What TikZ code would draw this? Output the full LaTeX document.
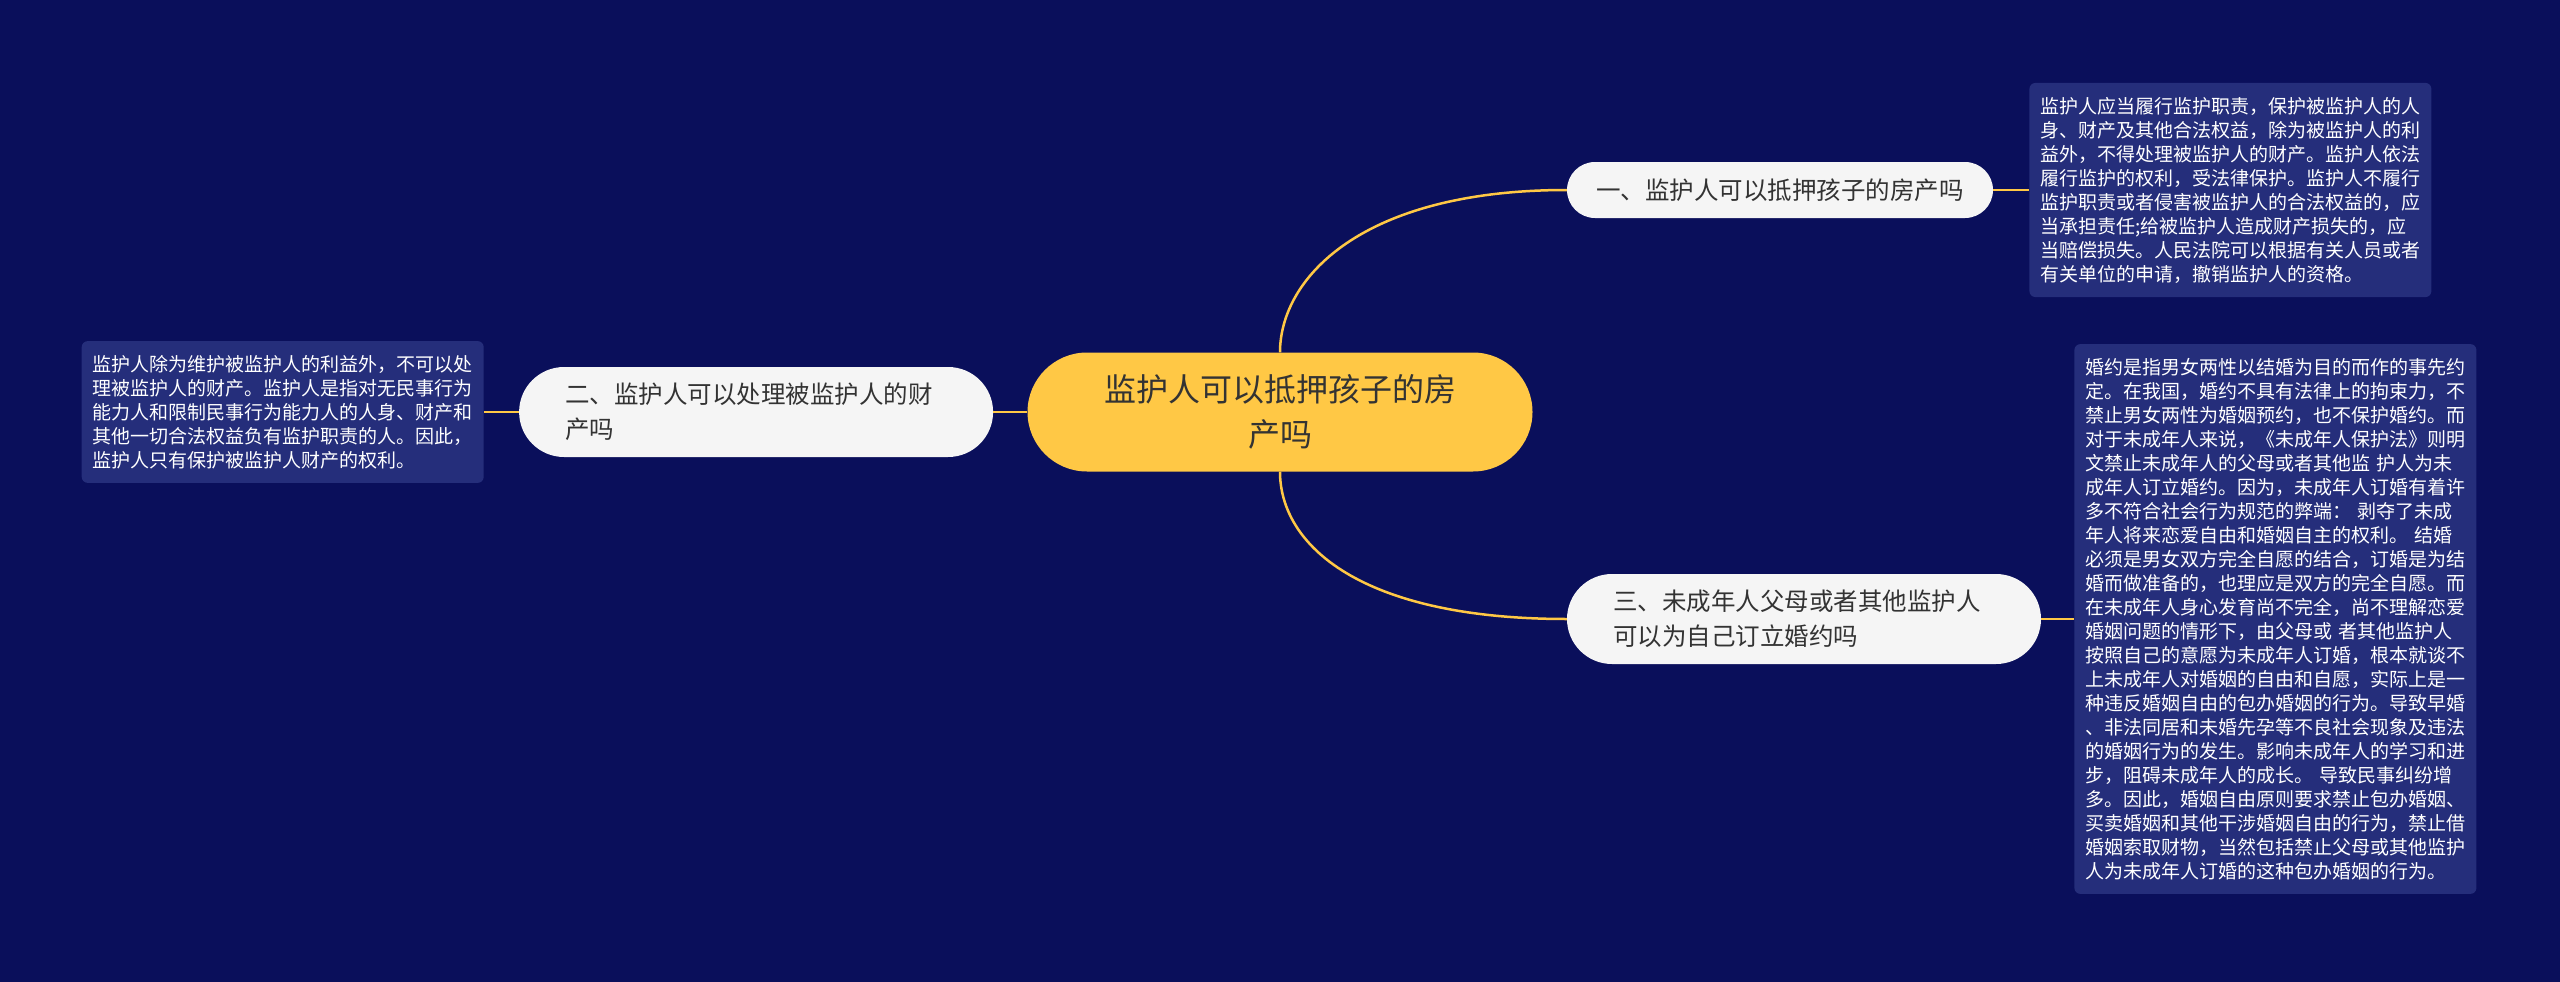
\documentclass[tikz,border=0pt]{standalone}
\usepackage{fontspec}
\setmainfont{Noto Sans CJK SC}
\usetikzlibrary{positioning}
\definecolor{pagebg}{HTML}{0A0F5B}
\definecolor{notefill}{HTML}{252E7B}
\definecolor{rootfill}{HTML}{FFC845}
\definecolor{branchfill}{HTML}{F5F5F5}
\definecolor{inktext}{HTML}{333333}
\definecolor{linkline}{HTML}{FFC845}
\tikzset{
  rootbox/.style={rectangle, rounded corners=59.5pt, fill=rootfill, text=inktext,
    align=center, minimum width=505pt, minimum height=119pt,
    font=\fontsize{32pt}{45pt}\selectfont},
  branchbox/.style={rectangle, fill=branchfill, text=inktext,
    font=\fontsize{24.5pt}{35pt}\selectfont},
  shortbranch/.style={branchbox, rounded corners=28pt, align=center,
    minimum width=426pt, minimum height=56pt},
  longbranch/.style={branchbox, rounded corners=45pt, align=left,
    text width=382pt, inner xsep=46pt, minimum height=90pt},
  notebox/.style={rectangle, rounded corners=6pt, fill=notefill, text=white,
    align=left, text width=380pt, inner xsep=11pt, inner ysep=14pt,
    font=\fontsize{19pt}{24pt}\selectfont},
  link/.style={draw=linkline, line width=2.5pt}
}

\begin{document}
\begin{tikzpicture}[x=1pt, y=-1pt]
    \fill[pagebg] (0,0) rectangle (2560,982);

    \node[rootbox] (centre) at (1280,412) {监护人可以抵押孩子的房\\产吗};
    \node[shortbranch] (n1) at (1780,190) {一、监护人可以抵押孩子的房产吗};
    \node[longbranch, left=34pt of centre] (n2) {二、监护人可以处理被监护人的财\\产吗};
    \node[longbranch] (n3) at (1804,619) {三、未成年人父母或者其他监护人\\可以为自己订立婚约吗};

    \node[notebox, right=36pt of n1] (note1) {监护人应当履行监护职责，保护被监护人的人\\身、财产及其他合法权益，除为被监护人的利\\益外，不得处理被监护人的财产。监护人依法\\履行监护的权利，受法律保护。监护人不履行\\监护职责或者侵害被监护人的合法权益的，应\\当承担责任;给被监护人造成财产损失的，应\\当赔偿损失。人民法院可以根据有关人员或者\\有关单位的申请，撤销监护人的资格。};
    \node[notebox, left=35pt of n2] (note2) {监护人除为维护被监护人的利益外，不可以处\\理被监护人的财产。监护人是指对无民事行为\\能力人和限制民事行为能力人的人身、财产和\\其他一切合法权益负有监护职责的人。因此，\\监护人只有保护被监护人财产的权利。};
    \node[notebox, right=33pt of n3] (note3) {婚约是指男女两性以结婚为目的而作的事先约\\定。在我国，婚约不具有法律上的拘束力，不\\禁止男女两性为婚姻预约，也不保护婚约。而\\对于未成年人来说，《未成年人保护法》则明\\文禁止未成年人的父母或者其他监 护人为未\\成年人订立婚约。因为，未成年人订婚有着许\\多不符合社会行为规范的弊端： 剥夺了未成\\年人将来恋爱自由和婚姻自主的权利。 结婚\\必须是男女双方完全自愿的结合，订婚是为结\\婚而做准备的，也理应是双方的完全自愿。而\\在未成年人身心发育尚不完全，尚不理解恋爱\\婚姻问题的情形下，由父母或 者其他监护人\\按照自己的意愿为未成年人订婚，根本就谈不\\上未成年人对婚姻的自由和自愿，实际上是一\\种违反婚姻自由的包办婚姻的行为。导致早婚\\、非法同居和未婚先孕等不良社会现象及违法\\的婚姻行为的发生。影响未成年人的学习和进\\步，阻碍未成年人的成长。 导致民事纠纷增\\多。因此，婚姻自由原则要求禁止包办婚姻、\\买卖婚姻和其他干涉婚姻自由的行为，禁止借\\婚姻索取财物，当然包括禁止父母或其他监护\\人为未成年人订婚的这种包办婚姻的行为。};

    \draw[link] (centre.north) .. controls +(0,-73) and +(-207,0) .. (n1.west);
    \draw[link] (centre.south) .. controls +(0,73) and +(-207,0) .. (n3.west);
    \draw[link] (centre.west) -- (n2.east);
    \draw[link] (n1.east) -- (note1.west);
    \draw[link] (n2.west) -- (note2.east);
    \draw[link] (n3.east) -- (note3.west);
  \end{tikzpicture}
\end{document}
